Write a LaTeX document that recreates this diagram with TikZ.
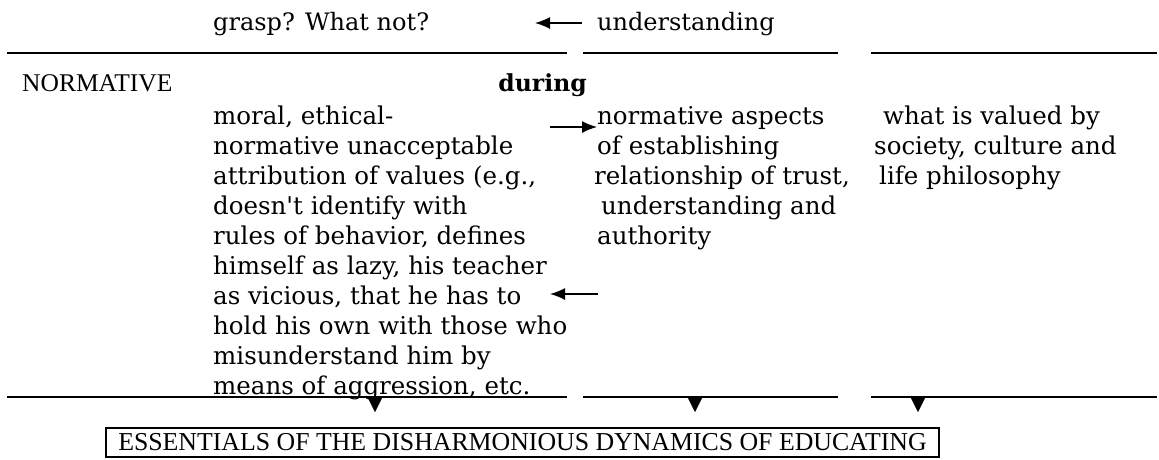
\documentclass[tikz,border=0pt]{standalone}
\usepackage{fontspec}
\setmainfont{DejaVu Serif}
\newfontfamily\capsfont{Liberation Serif}
\usetikzlibrary{arrows.meta,positioning,calc}

\begin{document}
\begin{tikzpicture}[
  x=1pt,y=-1pt,
  body/.style={inner sep=0pt,anchor=north west,align=left,font=\fontsize{24.5}{30}\selectfont},
  word/.style={inner sep=0pt,anchor=base west,font=\fontsize{24}{30}\selectfont},
  caps/.style={inner sep=0pt,anchor=base west,font=\capsfont\fontsize{25.5}{28}\selectfont},
  rule/.style={line width=1.3pt},
  arr/.style={-{Latex[length=15pt,width=12pt]},line width=1.4pt},
  drop/.style={-{Triangle[length=15pt,width=15pt]}},
  essbox/.style={draw,line width=1.5pt,minimum width=833pt,minimum height=29pt,inner sep=0pt,font=\capsfont\fontsize{25.8}{28}\selectfont}
]
\path[use as bounding box,fill=white] (0,0) rectangle (1159,459);

% header row
\node[word] (grasp) at (213,30) {grasp? What not?};
\node[word] (under) at (597,30) {understanding};
\coordinate (topfrom) at (582,23);
\draw[arr] (topfrom) -- ++(-47,0);

\foreach \y in {53,397} {
  \foreach \a/\b in {7/567,583/838,871/1157} {\draw[rule] (\a,\y) -- (\b,\y);}
}

% normative block
\node[caps] (normative) at (22,91.5) {NORMATIVE};
\node[word,anchor=base east,font=\fontsize{23.5}{30}\selectfont\bfseries] (during) at (587,91) {during};

\node[body] (moral) at (213,106) {moral, ethical-\\normative unacceptable\\attribution of values (e.g.,\\doesn\textquotesingle t identify with\\rules of behavior, defines\\himself as lazy, his teacher\\as vicious, that he has to\\hold his own with those who\\misunderstand him by\\means of aggression, etc.};
\node[body] (aspects) at (597,106) {normative aspects\\of establishing\\\hspace{-3pt}relationship of trust,\\\hspace{4pt}understanding and\\authority};
\node[body] (valued) at (874,106) {\hspace{9pt}what is valued by\\society, culture and\\\hspace{5pt}life philosophy};

\coordinate (moralout) at (550,127);
\draw[arr] (moralout) -- (moralout -| aspects.west);
\coordinate (trustout) at (598,294);
\draw[arr] (trustout) -- ++(-48,0);

% essentials
\foreach \x in {375,695,918} {\draw[drop] (\x,397) -- (\x,412);}
\node[essbox] (essentials) at (522.5,442.5) {ESSENTIALS OF THE DISHARMONIOUS DYNAMICS OF EDUCATING};
\end{tikzpicture}
\end{document}
